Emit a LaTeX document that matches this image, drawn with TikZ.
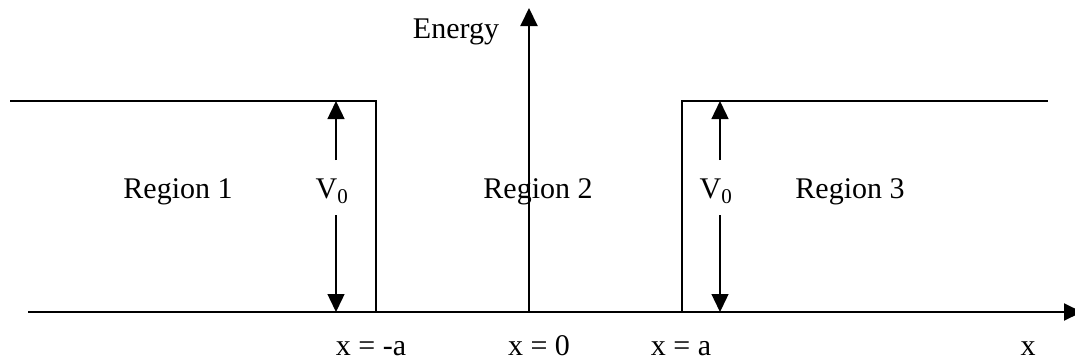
\documentclass[tikz,border=0pt]{standalone}
\usepackage{fontspec}
\setmainfont{Liberation Serif}
\usetikzlibrary{arrows.meta}
\begin{document}
\begin{tikzpicture}[x=1pt,y=-1pt,
  lbl/.style={font=\fontsize{30}{35}\selectfont, inner sep=0pt, anchor=base},
  thick line/.style={line width=2pt},
  axisarrow/.style={line width=2pt, -{Triangle[length=18pt,width=17pt]}},
  varrow/.style={line width=1.4pt, -{Triangle[length=18pt,width=17pt]}}]
\useasboundingbox (0,0) rectangle (1075,362);
% coordinates
\coordinate (axL) at (28,312);
\coordinate (axR) at (1082,312);
\coordinate (o) at (529,312);
\coordinate (top) at (529,8);
\coordinate (l0) at (10,101);
\coordinate (l1) at (376,101);
\coordinate (l2) at (376,312);
\coordinate (r0) at (682,312);
\coordinate (r1) at (682,101);
\coordinate (r2) at (1048,101);
\coordinate (a1t) at (336,101);
\coordinate (a1u) at (336,160);
\coordinate (a1d) at (336,215);
\coordinate (a1b) at (336,312);
\coordinate (a2t) at (720,101);
\coordinate (a2u) at (720,160);
\coordinate (a2d) at (720,215);
\coordinate (a2b) at (720,312);
% axes
\draw[axisarrow] (axL) -- (axR);
\draw[axisarrow] (o) -- (top);
% barriers
\draw[thick line] (l0) -- (l1) -- (l2);
\draw[thick line] (r0) -- (r1) -- (r2);
% V0 arrows
\draw[varrow] (a1u) -- (a1t);
\draw[varrow] (a1d) -- (a1b);
\draw[varrow] (a2u) -- (a2t);
\draw[varrow] (a2d) -- (a2b);
% labels
\node[lbl] (energy) at (456,38) {Energy};
\node[lbl] (reg1) at (178,198) {Region 1};
\node[lbl] (reg2) at (538,198) {Region 2};
\node[lbl] (reg3) at (850,198) {Region 3};
\node[lbl] (v1) at (332,198) {V\textsubscript{0}};
\node[lbl] (v2) at (716,198) {V\textsubscript{0}};
\node[lbl] (xma) at (371,355) {x = -a};
\node[lbl] (x0) at (539,355) {x = 0};
\node[lbl] (xa) at (681,355) {x = a};
\node[lbl] (x) at (1028,355) {x};
\end{tikzpicture}
\end{document}
